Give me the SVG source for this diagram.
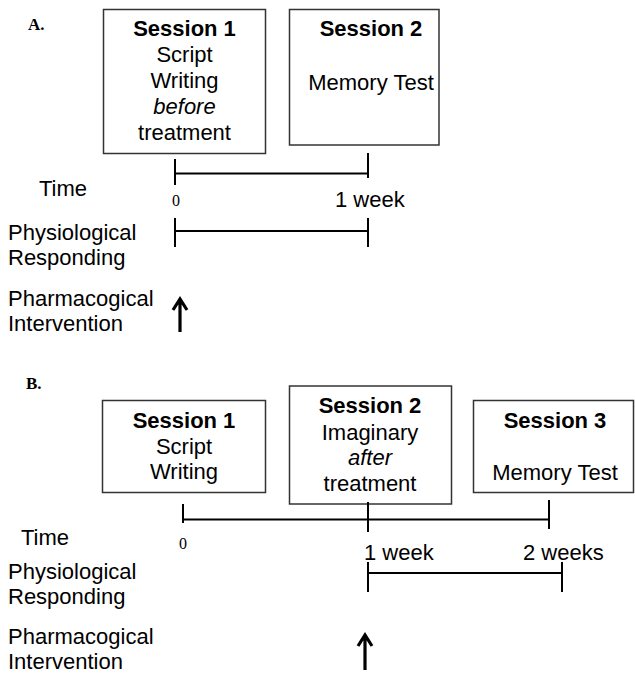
<svg xmlns="http://www.w3.org/2000/svg" width="635" height="676" viewBox="0 0 635 676">
<style>
.box{fill:#fff;stroke:#333;stroke-width:1.5}
.t{font-family:"Liberation Sans",Arial,sans-serif;font-size:22px;fill:#000}
.b{font-weight:bold}
.i{font-style:italic}
.c{text-anchor:middle}
.s{font-family:"Liberation Serif","Times New Roman",serif;fill:#000}
.ln{stroke:#000;stroke-width:2;fill:none}
.ar{stroke:#000;stroke-width:3.2;fill:none}
</style>
<rect width="635" height="676" fill="#fff"/>
<text class="s" x="28" y="30" font-size="17" font-weight="bold">A.</text>
<text class="s" x="26" y="389" font-size="17" font-weight="bold">B.</text>

<g id="a-s1">
<rect class="box" x="103.5" y="9.5" width="162" height="144"/>
<text class="t c b" x="184.5" y="36">Session 1</text>
<text class="t c" x="184.5" y="62">Script</text>
<text class="t c" x="184.5" y="88">Writing</text>
<text class="t c i" x="184.5" y="114">before</text>
<text class="t c" x="184.5" y="140">treatment</text>
</g>
<g id="a-s2">
<rect class="box" x="289.5" y="9.5" width="149.5" height="135.5"/>
<text class="t c b" x="371" y="36">Session 2</text>
<text class="t c" x="371" y="90">Memory Test</text>
</g>
<g id="a-labels">
<text class="t" x="39" y="196">Time</text>
<text class="s" x="172" y="206" font-size="16">0</text>
<text class="t" x="335" y="207">1 week</text>
<text class="t" x="8" y="240">Physiological</text>
<text class="t" x="8" y="265">Responding</text>
<text class="t" x="8" y="306">Pharmacogical</text>
<text class="t" x="8" y="331">Intervention</text>
</g>

<g id="b-s1">
<rect class="box" x="102.5" y="400.5" width="163" height="92"/>
<text class="t c b" x="184" y="428">Session 1</text>
<text class="t c" x="184" y="454">Script</text>
<text class="t c" x="184" y="479">Writing</text>
</g>
<g id="b-s2">
<rect class="box" x="289.5" y="386" width="162" height="118"/>
<text class="t c b" x="370" y="413">Session 2</text>
<text class="t c" x="370" y="440">Imaginary</text>
<text class="t c i" x="370" y="465">after</text>
<text class="t c" x="370" y="491">treatment</text>
</g>
<g id="b-s3">
<rect class="box" x="473.5" y="400.5" width="160" height="92"/>
<text class="t c b" x="555" y="428">Session 3</text>
<text class="t c" x="555" y="480">Memory Test</text>
</g>
<g id="b-labels">
<text class="t" x="21" y="545">Time</text>
<text class="s" x="179" y="549" font-size="16">0</text>
<text class="t" x="364" y="560">1 week</text>
<text class="t" x="523" y="560">2 weeks</text>
<text class="t" x="8" y="579">Physiological</text>
<text class="t" x="8" y="604">Responding</text>
<text class="t" x="8" y="644">Pharmacogical</text>
<text class="t" x="8" y="669">Intervention</text>
</g>

<g id="connectors">
<path class="ln" d="M175,159V185M175,173.5H368M368,153V178"/>
<path class="ln" d="M175,218V247M175,231H368M368,218V247"/>
<path class="ar" d="M180,332V300M173,310L180,299L187,310"/>
<path class="ln" d="M183,504V523M183,519.5H549M368,502V532M549,500V529"/>
<path class="ln" d="M368,562V592M368,573H562M562,562V592"/>
<path class="ar" d="M365,670V636M358,646L365,635L372,646"/>
</g>
</svg>
